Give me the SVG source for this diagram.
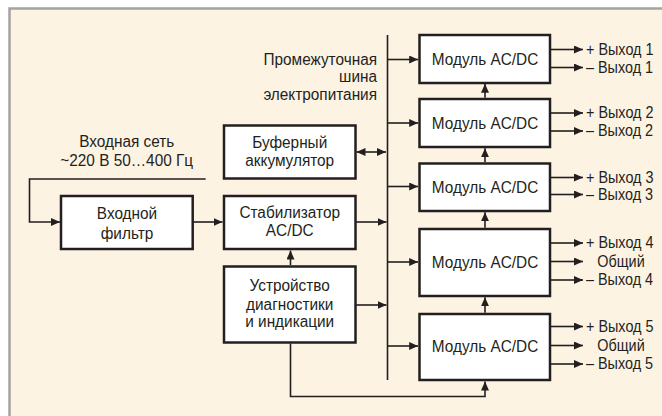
<svg xmlns="http://www.w3.org/2000/svg" width="662" height="416" viewBox="0 0 662 416">
<style>
.bg{fill:#fdf3e2}
.frame{stroke:#a3a3a3;stroke-width:2.5;fill:none}
.box{fill:#ffffff;stroke:#231f20;stroke-width:2.5}
.ln{fill:none;stroke:#231f20;stroke-width:1.6}
.arr{marker-end:url(#ah)}
text{font-family:"Liberation Sans",Arial,sans-serif;font-size:16px;fill:#231f20}
.c{text-anchor:middle}
.r{text-anchor:end}
</style>
<defs>
<marker id="ah" markerUnits="userSpaceOnUse" markerWidth="9" markerHeight="8" refX="9" refY="4" orient="auto"><path d="M0,0 L9,4 L0,8 z" fill="#231f20"/></marker>
<marker id="ahs" markerUnits="userSpaceOnUse" markerWidth="9" markerHeight="8" refX="0" refY="4" orient="auto"><path d="M9,0 L0,4 L9,8 z" fill="#231f20"/></marker>
</defs>
<rect class="bg" x="10" y="9" width="652" height="407"/>
<path class="frame" d="M662,8.5 H9.5 V416"/>

<g id="connectors">
<polyline class="ln arr" points="205.7,179 29.5,179 29.5,222 60,222"/>
<line class="ln arr" x1="193" y1="222" x2="222.5" y2="222"/>
<line class="ln arr" x1="356" y1="222" x2="386.5" y2="222"/>
<line class="ln" x1="356.5" y1="152" x2="386" y2="152" marker-start="url(#ahs)" marker-end="url(#ah)"/>
<line class="ln arr" x1="356" y1="305" x2="386.5" y2="305"/>
<line class="ln arr" x1="290.5" y1="265" x2="290.5" y2="250.5"/>
<polyline class="ln arr" points="290.5,343.5 290.5,396.5 485,396.5 485,381.5"/>
<line class="ln" x1="387.5" y1="35" x2="387.5" y2="380"/>
<line class="ln arr" x1="387.5" y1="59.5" x2="418.2" y2="59.5"/>
<line class="ln arr" x1="387.5" y1="123" x2="418.2" y2="123"/>
<line class="ln arr" x1="387.5" y1="186.5" x2="418.2" y2="186.5"/>
<line class="ln arr" x1="387.5" y1="262" x2="418.2" y2="262"/>
<line class="ln arr" x1="387.5" y1="346" x2="418.2" y2="346"/>
<line class="ln arr" x1="485" y1="97.7" x2="485" y2="83.8"/>
<line class="ln arr" x1="485" y1="162.2" x2="485" y2="148.3"/>
<line class="ln arr" x1="485" y1="227.7" x2="485" y2="212.3"/>
<line class="ln arr" x1="485" y1="312.7" x2="485" y2="297.3"/>
<line class="ln arr" x1="551" y1="49.5" x2="583" y2="49.5"/>
<line class="ln arr" x1="551" y1="67.5" x2="583" y2="67.5"/>
<line class="ln arr" x1="551" y1="113" x2="583" y2="113"/>
<line class="ln arr" x1="551" y1="131" x2="583" y2="131"/>
<line class="ln arr" x1="551" y1="177.5" x2="583" y2="177.5"/>
<line class="ln arr" x1="551" y1="194.5" x2="583" y2="194.5"/>
<line class="ln arr" x1="551" y1="243" x2="583" y2="243"/>
<line class="ln arr" x1="551" y1="261.5" x2="583" y2="261.5"/>
<line class="ln arr" x1="551" y1="280" x2="583" y2="280"/>
<line class="ln arr" x1="551" y1="326.5" x2="583" y2="326.5"/>
<line class="ln arr" x1="551" y1="345.5" x2="583" y2="345.5"/>
<line class="ln arr" x1="551" y1="364" x2="583" y2="364"/>
</g>

<g id="input-label">
<text class="c" transform="translate(126.7 146.5) scale(0.96 1)">Входная сеть</text>
<text class="c" transform="translate(126.7 165.5) scale(0.96 1)">~220 В 50…400 Гц</text>
</g>
<g id="bus-label">
<text class="r" transform="translate(377 64.5) scale(0.96 1)">Промежуточная</text>
<text class="r" transform="translate(377 82) scale(0.96 1)">шина</text>
<text class="r" transform="translate(377 99.5) scale(0.96 1)">электропитания</text>
</g>

<g id="filter">
<rect class="box" x="61" y="196" width="131.7" height="53"/>
<text class="c" transform="translate(127 218.5) scale(0.96 1)">Входной</text>
<text class="c" transform="translate(127 238.5) scale(0.96 1)">фильтр</text>
</g>
<g id="buffer">
<rect class="box" x="224" y="125.5" width="131.5" height="53"/>
<text class="c" transform="translate(289.7 148) scale(0.96 1)">Буферный</text>
<text class="c" transform="translate(289.7 166) scale(0.96 1)">аккумулятор</text>
</g>
<g id="stabilizer">
<rect class="box" x="224" y="196" width="131.5" height="53"/>
<text class="c" transform="translate(289.7 217.5) scale(0.96 1)">Стабилизатор</text>
<text class="c" transform="translate(289.7 236.3) scale(0.96 1)">AC/DC</text>
</g>
<g id="diagnostics">
<rect class="box" x="224" y="266.5" width="131.5" height="76"/>
<text class="c" transform="translate(289.7 291) scale(0.96 1)">Устройство</text>
<text class="c" transform="translate(289.7 309.5) scale(0.96 1)">диагностики</text>
<text class="c" transform="translate(289.7 327) scale(0.96 1)">и индикации</text>
</g>

<g id="module1">
<rect class="box" x="419.5" y="35" width="130.5" height="48"/>
<text class="c" transform="translate(485 65) scale(0.96 1)">Модуль AC/DC</text>
<text transform="translate(586 54.5) scale(0.9 1)">+ Выход 1</text>
<text transform="translate(586 72.5) scale(0.9 1)">– Выход 1</text>
</g>
<g id="module2">
<rect class="box" x="419.5" y="99" width="130.5" height="48"/>
<text class="c" transform="translate(485 128.5) scale(0.96 1)">Модуль AC/DC</text>
<text transform="translate(586 118) scale(0.9 1)">+ Выход 2</text>
<text transform="translate(586 136) scale(0.9 1)">– Выход 2</text>
</g>
<g id="module3">
<rect class="box" x="419.5" y="163.5" width="130.5" height="47.5"/>
<text class="c" transform="translate(485 192.5) scale(0.96 1)">Модуль AC/DC</text>
<text transform="translate(586 182.5) scale(0.9 1)">+ Выход 3</text>
<text transform="translate(586 199.5) scale(0.9 1)">– Выход 3</text>
</g>
<g id="module4">
<rect class="box" x="419.5" y="229" width="130.5" height="67"/>
<text class="c" transform="translate(485 268) scale(0.96 1)">Модуль AC/DC</text>
<text transform="translate(586 248) scale(0.9 1)">+ Выход 4</text>
<text class="c" transform="translate(621 266.5) scale(0.9 1)">Общий</text>
<text transform="translate(586 285) scale(0.9 1)">– Выход 4</text>
</g>
<g id="module5">
<rect class="box" x="419.5" y="314" width="130.5" height="66"/>
<text class="c" transform="translate(485 352) scale(0.96 1)">Модуль AC/DC</text>
<text transform="translate(586 331.5) scale(0.9 1)">+ Выход 5</text>
<text class="c" transform="translate(621 350.5) scale(0.9 1)">Общий</text>
<text transform="translate(586 369) scale(0.9 1)">– Выход 5</text>
</g>
</svg>
